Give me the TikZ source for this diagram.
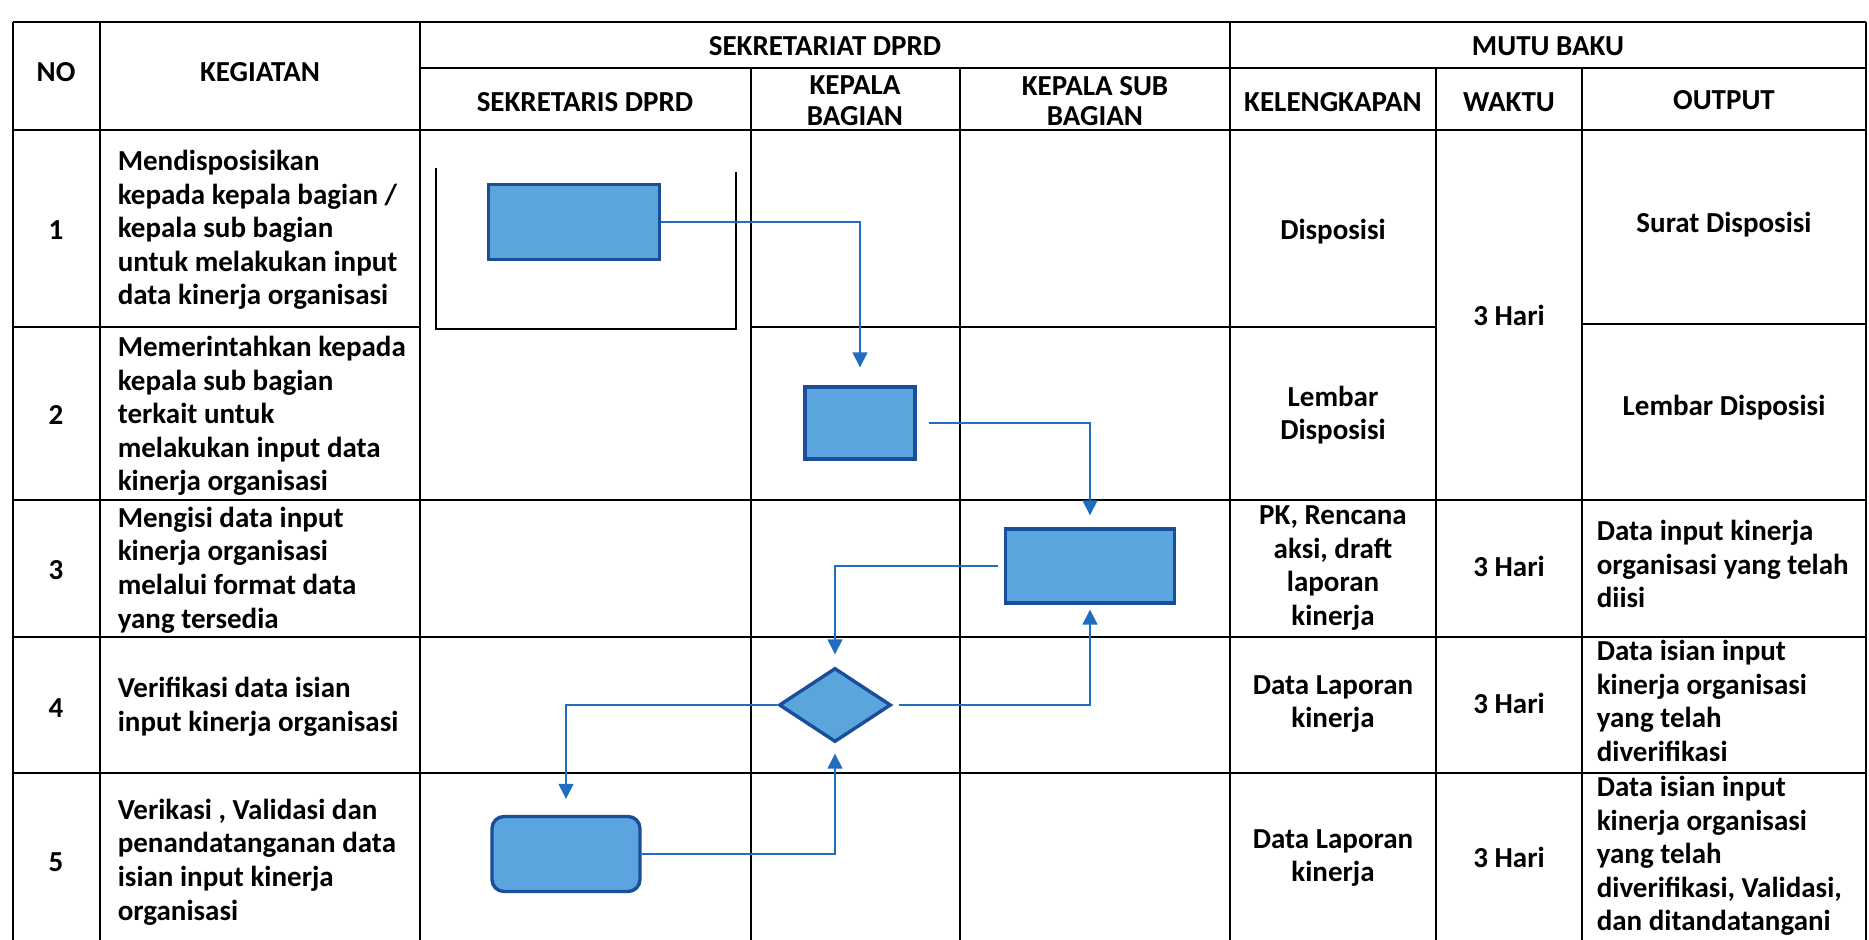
\documentclass[tikz,border=0pt]{standalone}
\usepackage{fontspec}
\setmainfont{Carlito}
\usetikzlibrary{shapes.geometric,arrows.meta}

\definecolor{boxfill}{HTML}{5AA5DD}
\definecolor{boxline}{HTML}{1A4E9A}
\definecolor{flowline}{HTML}{1F6CC0}

\tikzset{
   cell/.style={font=\fontsize{14.5}{16.8}\selectfont\bfseries, align=center, inner sep=0pt},
   kiri/.style={cell, align=left, anchor=west},
   proses/.style={draw=boxline, fill=boxfill, line width=1.7pt, inner sep=0pt},
   keputusan/.style={proses, diamond, minimum width=56pt, minimum height=37pt},
   alur/.style={draw=flowline, line width=0.75pt, -{Triangle[width=7.5pt,length=7.5pt]}, shorten >=6pt}
}

\begin{document}
\begin{tikzpicture}[x=0.5pt, y=-0.5pt, line width=0.8pt]
   \fill[white] (0,0) rectangle (1869,940);
   \useasboundingbox (0,0) rectangle (1869,940);

   \draw (13,22) -- (1866,22);
   \draw (420,68) -- (1866,68);
   \foreach \y in {130,500,637,773}
   \draw (13,\y) -- (1866,\y);
   \draw (13,327) -- (420,327);
   \draw (751,327) -- (1436,327);
   \draw (1582,324) -- (1866,324);

   \foreach \x in {13,100,420,1230,1866}
   \draw (\x,22) -- (\x,940);
   \foreach \x in {751,960,1436,1582}
   \draw (\x,68) -- (\x,940);

   \draw (436,168) -- (436,329) -- (736,329) -- (736,172);

   \node[cell] (hNo) at (56,72) {NO};
   \node[cell] (hKegiatan) at (260,72) {KEGIATAN};
   \node[cell] (hSekretariat) at (825,46) {SEKRETARIAT DPRD};
   \node[cell] (hMutu) at (1548,46) {MUTU BAKU};
   \node[cell] (hSekretaris) at (585,102) {SEKRETARIS DPRD};
   \node[cell] (hKabag) at (855,101) {KEPALA\\[-1.5pt]BAGIAN};
   \node[cell] (hKasubag) at (1095,101) {KEPALA SUB\\[-1.5pt]BAGIAN};
   \node[cell] (hLengkap) at (1333,102) {KELENGKAPAN};
   \node[cell] (hWaktu) at (1509,102) {WAKTU};
   \node[cell] (hOutput) at (1724,100) {OUTPUT};

   \foreach \n/\y in {1/230,2/415,3/570,4/708,5/862}
   \node[cell] (no\n) at (56,\y) {\n};

   \node[kiri] (keg1) at (117,230) {Mendisposisikan\\kepada kepala bagian /\\kepala sub bagian\\untuk melakukan input\\data kinerja organisasi};
   \node[kiri] (keg2) at (117,416) {Memerintahkan kepada\\kepala sub bagian\\terkait untuk\\melakukan input data\\kinerja organisasi};
   \node[kiri] (keg3) at (117,570) {Mengisi data input\\kinerja organisasi\\melalui format data\\yang tersedia};
   \node[kiri] (keg4) at (117,707) {Verifikasi data isian\\input kinerja organisasi};
   \node[kiri] (keg5) at (117,862) {Verikasi , Validasi dan\\penandatanganan data\\isian input kinerja\\organisasi};

   \node[cell] (lengkap1) at (1333,232) {Disposisi};
   \node[cell] (lengkap2) at (1333,415) {Lembar\\Disposisi};
   \node[cell] (lengkap3) at (1333,568) {PK, Rencana\\aksi, draft\\laporan\\kinerja};
   \node[cell] (lengkap4) at (1333,704) {Data Laporan\\kinerja};
   \node[cell] (lengkap5) at (1333,858) {Data Laporan\\kinerja};

   \node[cell] (waktu12) at (1509,315) {3 Hari};
   \node[cell] (waktu3) at (1509,566) {3 Hari};
   \node[cell] (waktu4) at (1509,703) {3 Hari};
   \node[cell] (waktu5) at (1509,857) {3 Hari};

   \node[cell] (out1) at (1724,225) {Surat Disposisi};
   \node[cell] (out2) at (1724,408) {Lembar Disposisi};
   \node[kiri] (out3) at (1596,564) {Data input kinerja\\organisasi yang telah\\diisi};
   \node[kiri] (out4) at (1596,701) {Data isian input\\kinerja organisasi\\yang telah\\diverifikasi};
   \node[kiri] (out5) at (1596,856) {Data isian input\\kinerja organisasi\\yang telah\\diverifikasi, Validasi,\\dan ditandatangani};

   \node[proses, minimum width=85.5pt, minimum height=37.5pt] (sekdis) at (574,222) {};
   \node[proses, minimum width=55pt, minimum height=36pt] (kabag) at (860,423) {};
   \node[proses, minimum width=84.5pt, minimum height=37pt] (kasubag) at (1090,566) {};
   \node[keputusan] (verif) at (835,705) {};
   \node[proses, rounded corners=6pt, minimum width=74pt, minimum height=37.5pt] (ttd) at (566,854) {};

   \draw[alur, shorten >=9pt] (sekdis.east) -| (kabag.north);
   \draw[alur, shorten <=6pt] (kabag.east) -| (kasubag.north);
   \draw[alur, shorten <=3pt] (kasubag.west) -| (verif.north);
   \draw[alur, shorten <=3pt, shorten >=2.5pt] (verif.east) -| (kasubag.south);
   \draw[alur, shorten >=8pt] (verif.west) -| (ttd.north);
   \draw[alur, shorten >=5pt] (ttd.east) -| (verif.south);

\end{tikzpicture}
\end{document}
